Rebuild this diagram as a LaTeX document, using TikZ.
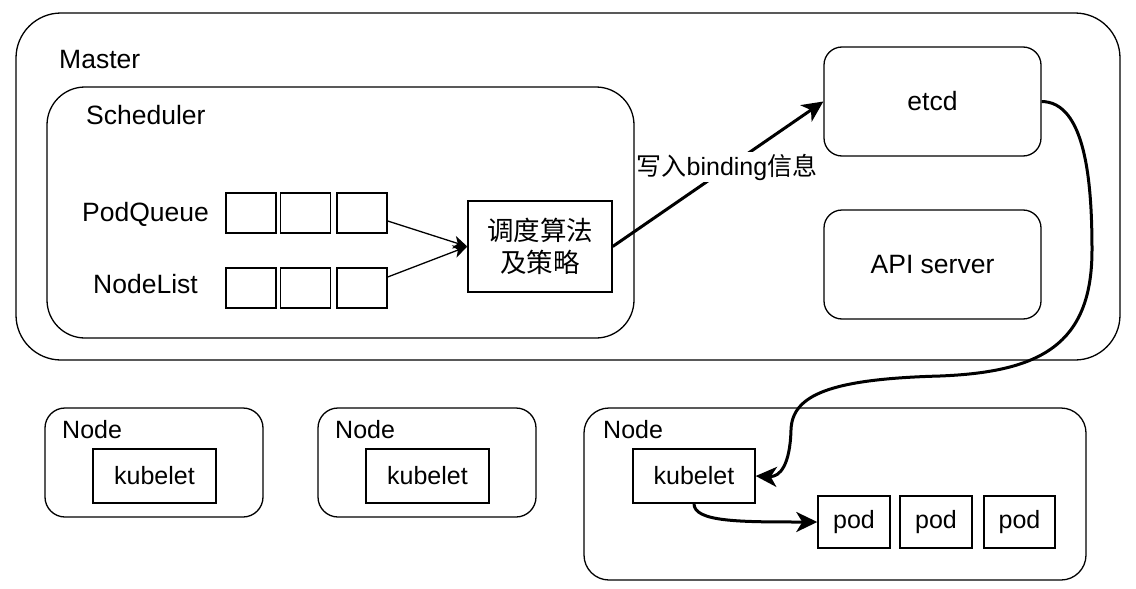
\documentclass[tikz,border=0pt]{standalone}
\usepackage{fontspec}
\setmainfont{Liberation Sans}
\newfontfamily\cjk{Noto Sans CJK SC}
\usetikzlibrary{arrows.meta}
\tikzset{
  bigfont/.style={font=\fontsize{26.5}{32}\selectfont},
  smallfont/.style={font=\fontsize{25}{30}\selectfont},
  frame/.style={draw, line width=1.3pt, inner sep=0pt},
  cell/.style={draw, line width=1.4pt, inner sep=0pt},
  lbl/.style={anchor=base west, inner sep=0pt},
  thinarrow/.style={line width=1.3pt, -{Stealth[length=14pt, width=13pt, inset=4pt]}},
  thickarrow/.style={line width=3pt, -{Stealth[length=21pt, width=20pt, inset=6pt]}},
}
\begin{document}
\begin{tikzpicture}[x=1pt, y=-1pt]
\path[use as bounding box] (0,0) rectangle (1136,589);

% Master
\node[frame, rounded corners=45pt, minimum width=1104pt, minimum height=347pt] (master) at (568,186.5) {};
\node[lbl, bigfont] (masterlbl) at (59,68) {Master};

% Scheduler
\node[frame, rounded corners=38pt, minimum width=587pt, minimum height=251pt] (sched) at (340.5,212.5) {};
\node[lbl, bigfont] (schedlbl) at (86,124) {Scheduler};

\node[lbl, bigfont] (pqlbl) at (82,221) {PodQueue};
\node[lbl, bigfont] (nllbl) at (93,293) {NodeList};

\node[cell, minimum width=50pt, minimum height=40pt] (q11) at (251,213) {};
\node[cell, minimum width=50pt, minimum height=40pt] (q12) at (305.5,213) {};
\node[cell, minimum width=50pt, minimum height=40pt] (q13) at (362,213) {};
\node[cell, minimum width=50pt, minimum height=40pt] (q21) at (251,288) {};
\node[cell, minimum width=50pt, minimum height=40pt] (q22) at (305.5,288) {};
\node[cell, minimum width=50pt, minimum height=40pt] (q23) at (362,288) {};

\node[cell, minimum width=144pt, minimum height=91pt, align=center,
      font=\cjk\fontsize{26.5}{32}\selectfont] (algo) at (540,246.5) {调度算法\\及策略};

% etcd and API server
\node[frame, rounded corners=18pt, minimum width=217pt, minimum height=109pt, bigfont] (etcd) at (932.5,101.5) {etcd};
\node[frame, rounded corners=18pt, minimum width=217pt, minimum height=109pt, bigfont] (api) at (932.5,264.5) {API server};

% Worker nodes
\node[frame, rounded corners=20pt, minimum width=218pt, minimum height=109pt] (n1) at (154,462.5) {};
\node[lbl, smallfont] (n1lbl) at (62,438) {Node};
\node[cell, minimum width=123pt, minimum height=54pt, smallfont] (k1) at (154.5,476) {kubelet};

\node[frame, rounded corners=20pt, minimum width=218pt, minimum height=109pt] (n2) at (427,462.5) {};
\node[lbl, smallfont] (n2lbl) at (335,438) {Node};
\node[cell, minimum width=123pt, minimum height=54pt, smallfont] (k2) at (427.5,476) {kubelet};

\node[frame, rounded corners=25pt, minimum width=502pt, minimum height=172pt] (n3) at (835,494) {};
\node[lbl, smallfont] (n3lbl) at (603,438) {Node};
\node[cell, minimum width=122pt, minimum height=54pt, smallfont] (k3) at (694,476) {kubelet};

\node[cell, minimum width=72pt, minimum height=52pt, smallfont] (p1) at (854,522) {pod};
\node[cell, minimum width=72pt, minimum height=52pt, smallfont] (p2) at (936,522) {pod};
\node[cell, minimum width=71pt, minimum height=52pt, smallfont] (p3) at (1019.5,522) {pod};

% Connectors
\draw[thinarrow] ([yshift=-8pt]q13.east) -- (algo.west);
\draw[thinarrow] ([yshift=11pt]q23.east) -- (algo.west);

\draw[thickarrow] (algo.east) -- (etcd.west);
\node[fill=white, inner sep=2pt, smallfont] (bindlbl) at (727,167) {{\cjk 写入}binding{\cjk 信息}};

\draw[thickarrow] (etcd.east) .. controls (1085,102) and (1092,180) .. (1092,250)
  .. controls (1092,345) and (1040,372) .. (940,376)
  .. controls (830,379) and (792,395) .. (791,430)
  .. controls (790,465) and (780,477) .. (k3.east);

\draw[thickarrow] (k3.south) .. controls (694,522) and (740,522) .. (p1.west);
\end{tikzpicture}
\end{document}
